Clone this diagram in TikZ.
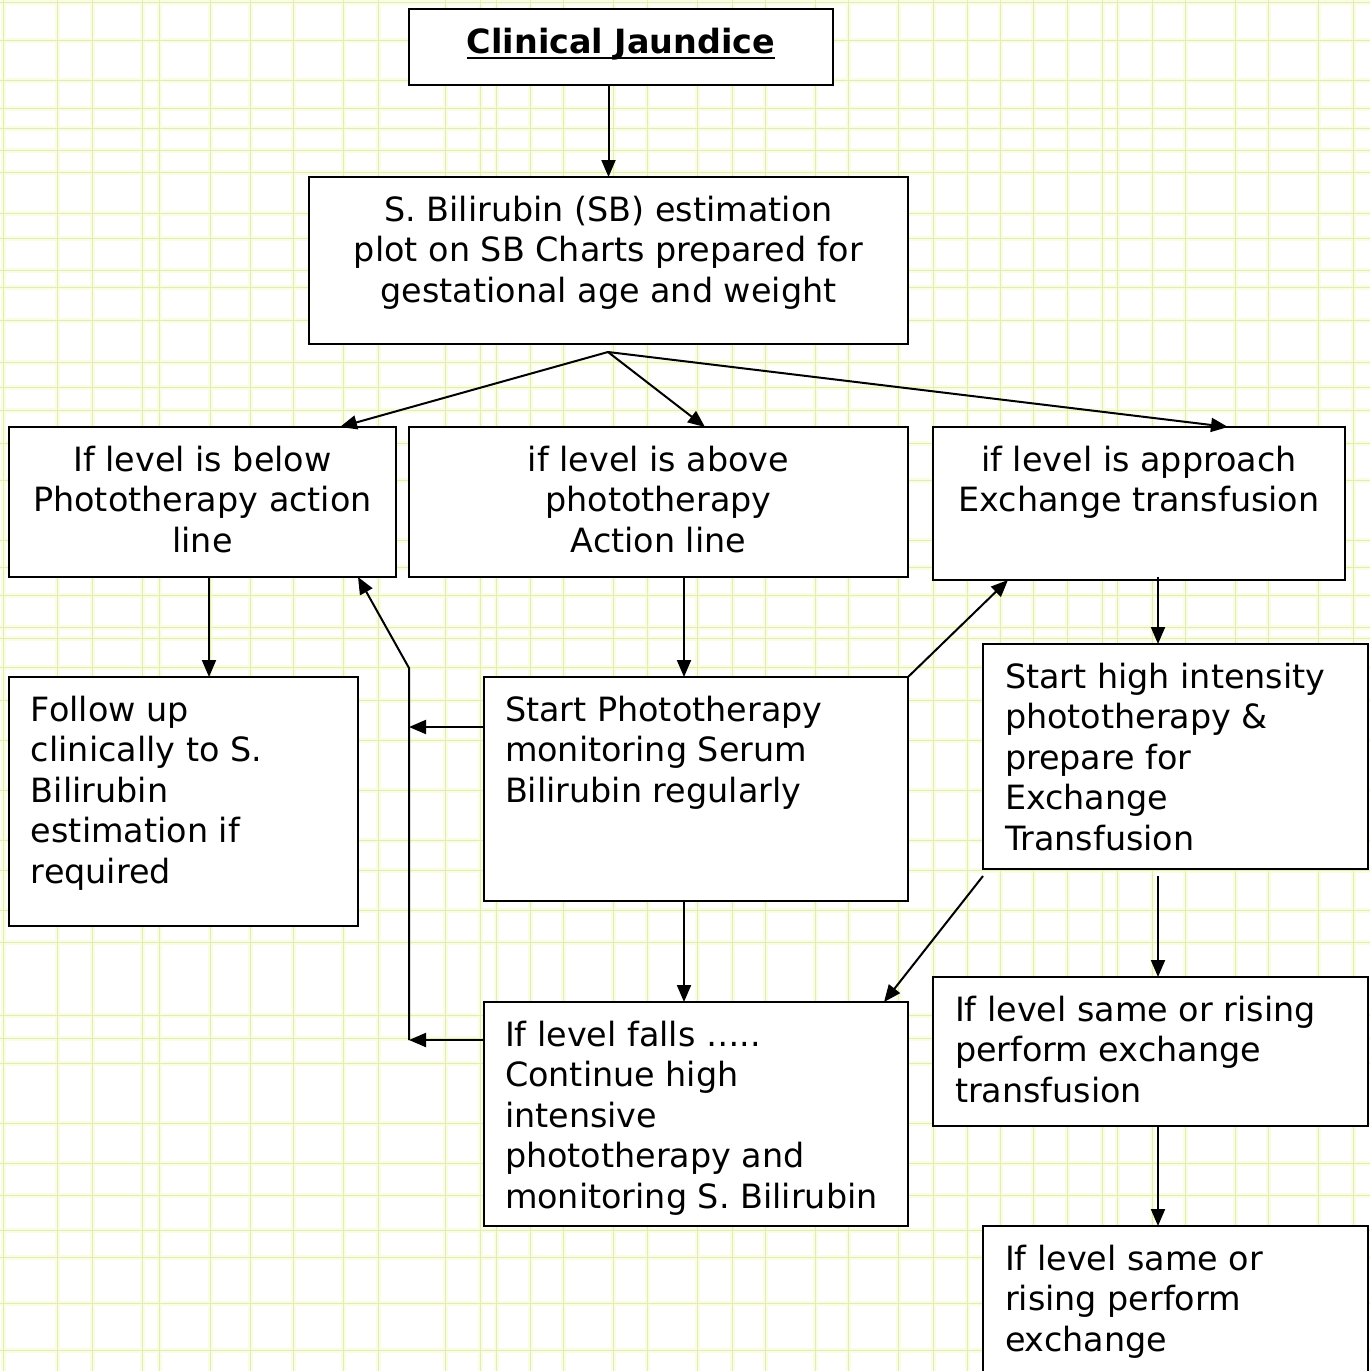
\documentclass[tikz,border=0pt]{standalone}
\usepackage{fontspec}
\setmainfont{DejaVu Sans}
\usetikzlibrary{arrows.meta}

\definecolor{gridglow}{RGB}{251,253,226}
\definecolor{gridcore}{RGB}{226,236,182}

% underline drawn as a rule just under the baseline
\newlength\ulwidth
\newcommand\ulbold[1]{\settowidth\ulwidth{#1}\rlap{\rule[-6pt]{\ulwidth}{2.6pt}}#1}
% box body: width, height, alignment, text (first baseline ~44pt below the top)
\newcommand\fbody[4]{\parbox[c][#2pt][t]{#1pt}{\vspace*{16pt}#3\strut#4\par}}

\begin{document}
\begin{tikzpicture}[x=1pt,y=-1pt,
  box/.style={draw=black, line width=2pt, fill=white, inner sep=0pt, outer sep=0pt, anchor=north west},
  arr/.style={line width=2pt, -{Triangle[length=17pt,width=14pt]}},
  glow/.style={line width=5pt, color=gridglow},
  gline/.style={line width=1pt, color=gridcore},
  font=\fontsize{33.4}{40.5}\selectfont]

\useasboundingbox (0,0) rectangle (1370,1371);
\clip (0,0) rectangle (1370,1371);
\fill[white] (0,0) rectangle (1370,1371);

% graph-paper background
\def\gxs{3,57,92,142,159,210,250,293,343,378,445,480,496,530,563,613,647,697,732,765,815,848,898,933,967,1000,1033,1067,1102,1117,1152,1185,1235,1268,1318,1353}
\def\gys{2,40,80,108,128,150,172,213,238,270,287,320,362,387,410,443,480,540,567,595,627,638,667,700,740,790,840,870,910,942,1015,1038,1063,1123,1163,1195,1230,1257,1303,1350}
\foreach \g in \gxs {\draw[glow] (\g,0) -- (\g,1371);}
\foreach \g in \gys {\draw[glow] (0,\g) -- (1370,\g);}
\foreach \g in \gxs {\draw[gline] (\g,0) -- (\g,1371);}
\foreach \g in \gys {\draw[gline] (0,\g) -- (1370,\g);}

% boxes
\node[box] (title) at (409,9) {\fbody{424}{76}{\centering}{\textbf{\ulbold{Clinical Jaundice}}}};
\node[box] (sb) at (309,177) {\fbody{599}{167}{\centering}{S. Bilirubin (SB) estimation\\plot on SB Charts prepared for\\gestational age and weight}};
\node[box] (below) at (9,427) {\fbody{387}{150}{\centering}{If level is below\\Phototherapy action\\line}};
\node[box] (above) at (409,427) {\fbody{499}{150}{\centering}{if level is above\\phototherapy\\Action line}};
\node[box] (approach) at (933,427) {\fbody{412}{153}{\centering}{if level is approach\\Exchange transfusion}};
\node[box] (follow) at (9,677) {\fbody{349}{249}{\raggedright\leftskip=22pt}{Follow up\\clinically to S.\\Bilirubin\\estimation if\\required}};
\node[box] (startpt) at (484,677) {\fbody{424}{224}{\raggedright\leftskip=21pt}{Start Phototherapy\\monitoring Serum\\Bilirubin regularly}};
\node[box] (high) at (983,644) {\fbody{385}{225}{\raggedright\leftskip=22pt}{Start high intensity\\phototherapy \&\\prepare for\\Exchange\\Transfusion}};
\node[box] (falls) at (484,1002) {\fbody{424}{224}{\raggedright\leftskip=21pt}{If level falls …..\\Continue high\\intensive\\phototherapy and\\monitoring S. Bilirubin}};
\node[box] (same) at (933,977) {\fbody{435}{149}{\raggedright\leftskip=22pt}{If level same or rising\\perform exchange\\transfusion}};
\node[box] (samelow) at (983,1226) {\fbody{385}{170}{\raggedright\leftskip=22pt}{If level same or\\rising perform\\exchange}};

% junction points
\coordinate (fork) at (608,352);
\coordinate (busTop) at (409,668);
\coordinate (busBot) at (409,1040);
\coordinate (ptout) at ([yshift=-50]startpt.north west);

% connectors
\draw[arr] (sb.north |- title.south) -- (sb.north);
\draw[arr] (fork) -- ([xshift=331]below.north west);
\draw[arr] (fork) -- ([xshift=296]above.north west);
\draw[arr] (fork) -- ([xshift=295]approach.north west);
\draw[arr] ([xshift=200]below.south west) -- ([xshift=200]follow.north west);
\draw[arr] ([xshift=275]above.south west) -- ([xshift=200]startpt.north west);
\draw[arr] ([xshift=225,yshift=3]approach.south west) -- ([xshift=175]high.north west);
\draw[arr] (ptout) -- (busTop |- ptout);
\draw[arr] (falls.west |- busBot) -- (busBot);
\draw[arr] (busBot) -- (busTop) -- ([xshift=-38]below.south east);
\draw[arr] (startpt.north east) -- ([xshift=75]approach.south west);
\draw[arr] ([xshift=200]startpt.south west) -- ([xshift=200]falls.north west);
\draw[arr] ([yshift=-7]high.south west) -- ([xshift=-24]falls.north east);
\draw[arr] ([xshift=175,yshift=-7]high.south west) -- ([xshift=225]same.north west);
\draw[arr] ([xshift=225]same.south west) -- ([xshift=175]samelow.north west);
\end{tikzpicture}
\end{document}
